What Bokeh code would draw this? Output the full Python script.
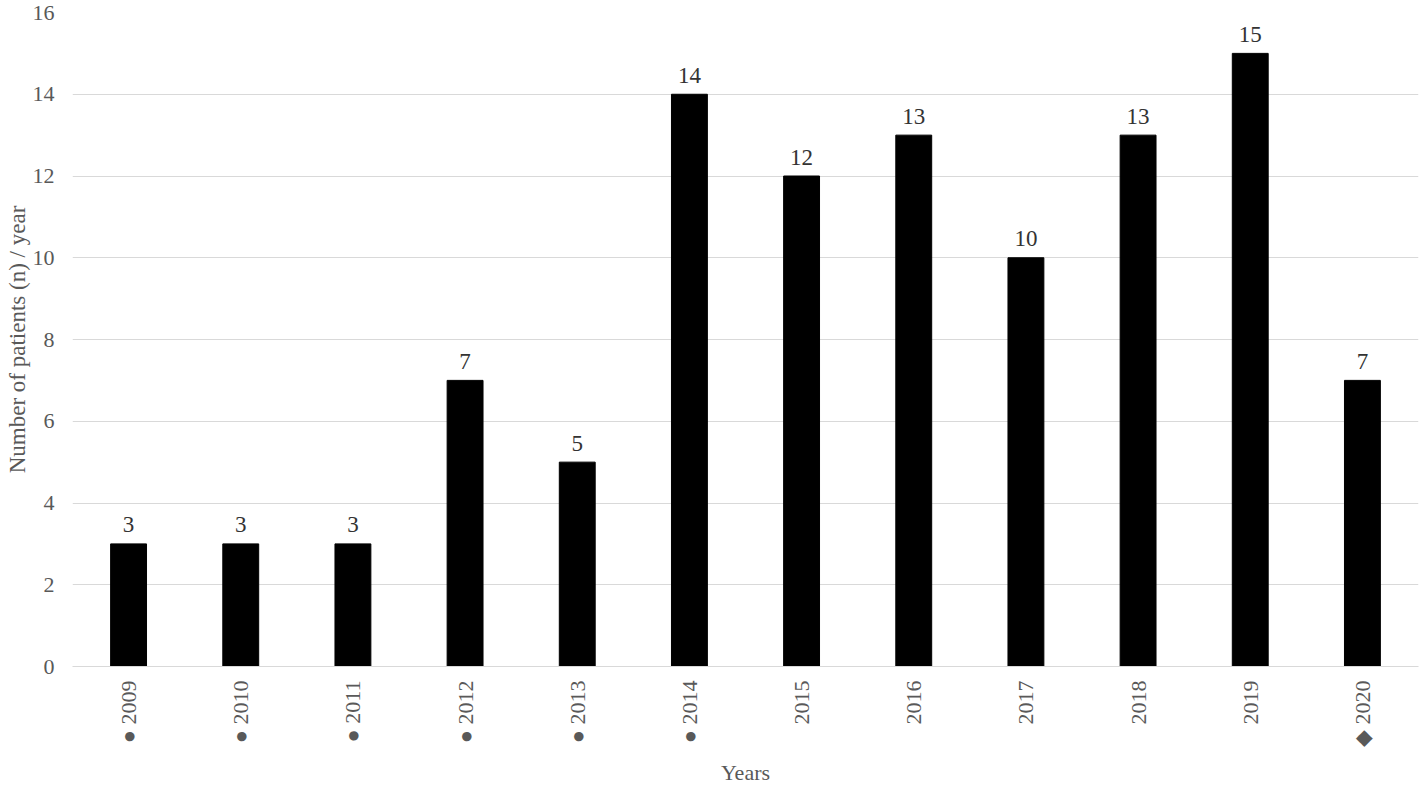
import math
from bokeh.plotting import figure
from bokeh.models import ColumnDataSource, FactorRange, Range1d, SingleIntervalTicker
from bokeh.core.properties import value
from bokeh.embed import file_html
from bokeh.resources import INLINE

years = ["2009", "2010", "2011", "2012", "2013", "2014", "2015", "2016", "2017", "2018", "2019", "2020"]
patients = [3, 3, 3, 7, 5, 14, 12, 13, 10, 13, 15, 7]
markers = ["●", "●", "●", "●", "●", "●", "", "", "", "", "", "◆"]

FONT = "Liberation Serif"
GRAY = "#595959"

factors = [(m + " " + y if m else y) for y, m in zip(years, markers)]
src = ColumnDataSource(dict(x=factors, y=patients, lbl=[str(v) for v in patients]))

p = figure(width=1424, height=788, x_range=FactorRange(*factors, range_padding=0),
           y_range=Range1d(0, 16), output_backend="svg", toolbar_location=None,
           min_border_left=72, min_border_right=6, min_border_top=12, min_border_bottom=122)
p.outline_line_color = None

p.vbar(x="x", top="y", width=0.32, source=src, fill_color="black", line_color="black")
p.text(x="x", y="y", text="lbl", source=src, y_offset=-19, text_align="center",
       text_baseline="alphabetic", text_font=value(FONT), text_font_size="23px", text_color="#333333")

p.xgrid.grid_line_color = None
p.ygrid.grid_line_color = "#d9d9d9"
p.ygrid.grid_line_width = 1

p.yaxis.ticker = SingleIntervalTicker(interval=2)
p.yaxis.axis_line_color = None
p.yaxis.major_tick_line_color = None
p.yaxis.minor_tick_line_color = None
p.yaxis.major_tick_out = 0
p.yaxis.major_tick_in = 0
p.yaxis.minor_tick_out = 0
p.yaxis.major_label_text_font = FONT
p.yaxis.major_label_text_font_size = "22px"
p.yaxis.major_label_text_color = GRAY
p.yaxis.major_label_standoff = 18
p.yaxis.axis_label = "Number of patients (n) / year"
p.yaxis.axis_label_text_font = FONT
p.yaxis.axis_label_text_font_size = "23px"
p.yaxis.axis_label_text_font_style = "normal"
p.yaxis.axis_label_text_color = GRAY
p.yaxis.axis_label_standoff = 0

p.xaxis.axis_line_color = "#d9d9d9"
p.xaxis.major_tick_line_color = None
p.xaxis.minor_tick_line_color = None
p.xaxis.major_tick_out = 0
p.xaxis.major_tick_in = 0
p.xaxis.major_label_orientation = math.pi / 2
p.xaxis.major_label_text_font = FONT
p.xaxis.major_label_text_font_size = "22px"
p.xaxis.major_label_text_color = GRAY
p.xaxis.major_label_standoff = 14
p.xaxis.axis_label = "Years"
p.xaxis.axis_label_text_font = FONT
p.xaxis.axis_label_text_font_size = "22px"
p.xaxis.axis_label_text_font_style = "normal"
p.xaxis.axis_label_text_color = GRAY
p.xaxis.axis_label_standoff = 10

open("out.html", "w").write(file_html(p, INLINE))
